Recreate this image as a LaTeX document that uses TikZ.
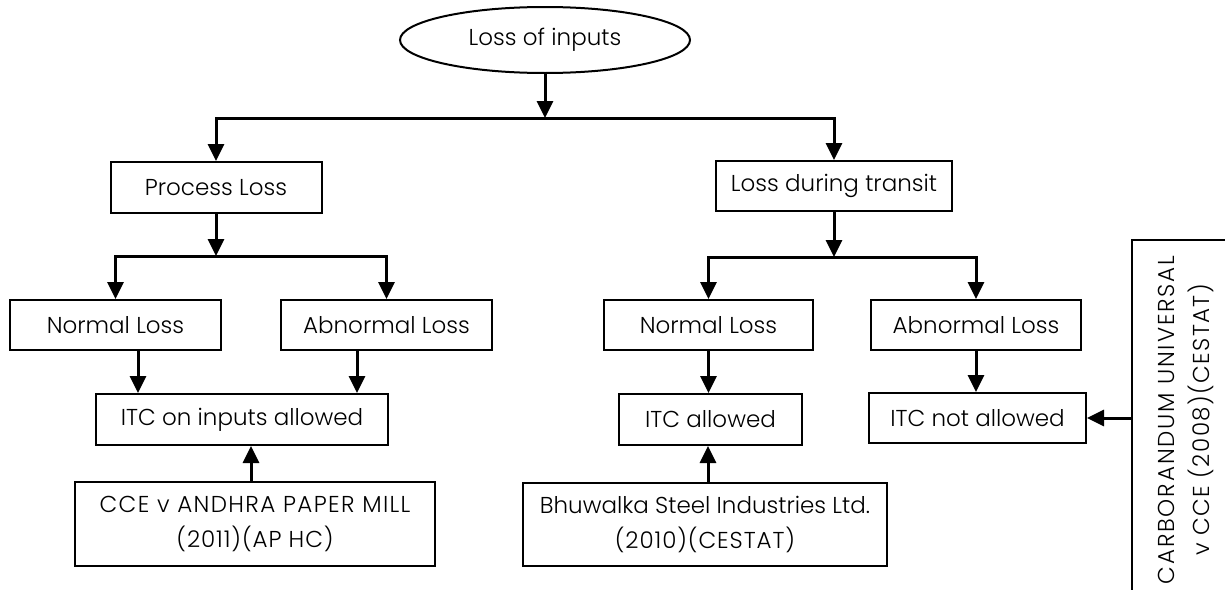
\documentclass[tikz,border=0pt]{standalone}
\usepackage{fontspec}
\setmainfont{Poppins}[UprightFont=* Light]
\usetikzlibrary{shapes.geometric,arrows.meta}
\begin{document}
\begin{tikzpicture}[x=1pt,y=-1pt,
  box/.style={draw,line width=2pt,inner sep=0pt,align=center,font=\fontsize{23}{35}\selectfont},
  arr/.style={line width=3pt,-{Triangle[length=17pt,width=16pt]}}]
\useasboundingbox (0,0) rectangle (1225,589);
\node[box,ellipse,minimum width=290pt,minimum height=66pt] (top) at (545,40) {Loss of inputs};
\node[box,minimum width=211pt,minimum height=51pt] (pl) at (216,187.5) {Process Loss};
\node[box,minimum width=236pt,minimum height=50pt] (lt) at (834,186) {Loss during transit};
\node[box,minimum width=211pt,minimum height=50pt] (nl1) at (115.5,325) {Normal Loss};
\node[box,minimum width=211pt,minimum height=50pt] (al1) at (386.5,325) {Abnormal Loss};
\node[box,minimum width=292pt,minimum height=51pt] (itc1) at (242,419.5) {ITC on inputs allowed};
\node[box,minimum width=360pt,minimum height=84pt] (cce) at (255,524) {{\addfontfeatures{LetterSpace=6}CCE v ANDHRA PAPER MILL}\\{\addfontfeatures{LetterSpace=4}(2011)(AP HC)}};
\node[box,minimum width=209pt,minimum height=50pt] (nl2) at (708.5,325) {Normal Loss};
\node[box,minimum width=210pt,minimum height=50pt] (al2) at (976,325) {Abnormal Loss};
\node[box,minimum width=183pt,minimum height=51pt] (itc2) at (710.5,419.5) {ITC allowed};
\node[box,minimum width=217pt,minimum height=50pt] (itc3) at (977.5,418) {ITC not allowed};
\node[box,minimum width=364pt,minimum height=83pt] (bh) at (705,524.5) {Bhuwalka Steel Industries Ltd.\\{\addfontfeatures{LetterSpace=4}(2010)(CESTAT)}};
\begin{scope}
\clip (0,0) rectangle (1225,589);
\node[box,rotate=90,minimum width=360pt,minimum height=108pt] (carb) at (1186,420) {{\addfontfeatures{LetterSpace=8}CARBORANDUM UNIVERSAL}\\{\addfontfeatures{LetterSpace=6}v CCE (2008)(CESTAT)}};
\end{scope}
% connectors
\coordinate (j1) at (545,118);
\coordinate (j2) at (216,256);
\coordinate (j3) at (834,257);
\draw[arr] (top.south) -- (j1);
\draw[arr] (j1) -| (pl.north);
\draw[arr] (j1) -| (lt.north);
\draw[arr] (pl.south) -- (j2);
\draw[arr] (j2) -| (nl1.north);
\draw[arr] (j2) -| (al1.north);
\draw[arr] (lt.south) -- (j3);
\draw[arr] (j3) -| (nl2.north);
\draw[arr] (j3) -| (al2.north);
\draw[arr] ([xshift=22.5pt]nl1.south) -- ([xshift=-104pt]itc1.north);
\draw[arr] ([xshift=-29.5pt]al1.south) -- ([xshift=115pt]itc1.north);
\draw[arr] ([xshift=-4pt]cce.north) -- ([xshift=9pt]itc1.south);
\draw[arr] (nl2.south) -- (nl2.south |- itc2.north);
\draw[arr] ([xshift=3pt]bh.north) -- ([xshift=-2.5pt]itc2.south);
\draw[arr] (al2.south) -- (al2.south |- itc3.north);
\draw[arr] (carb.north |- itc3.east) -- (itc3.east);
\end{tikzpicture}
\end{document}
